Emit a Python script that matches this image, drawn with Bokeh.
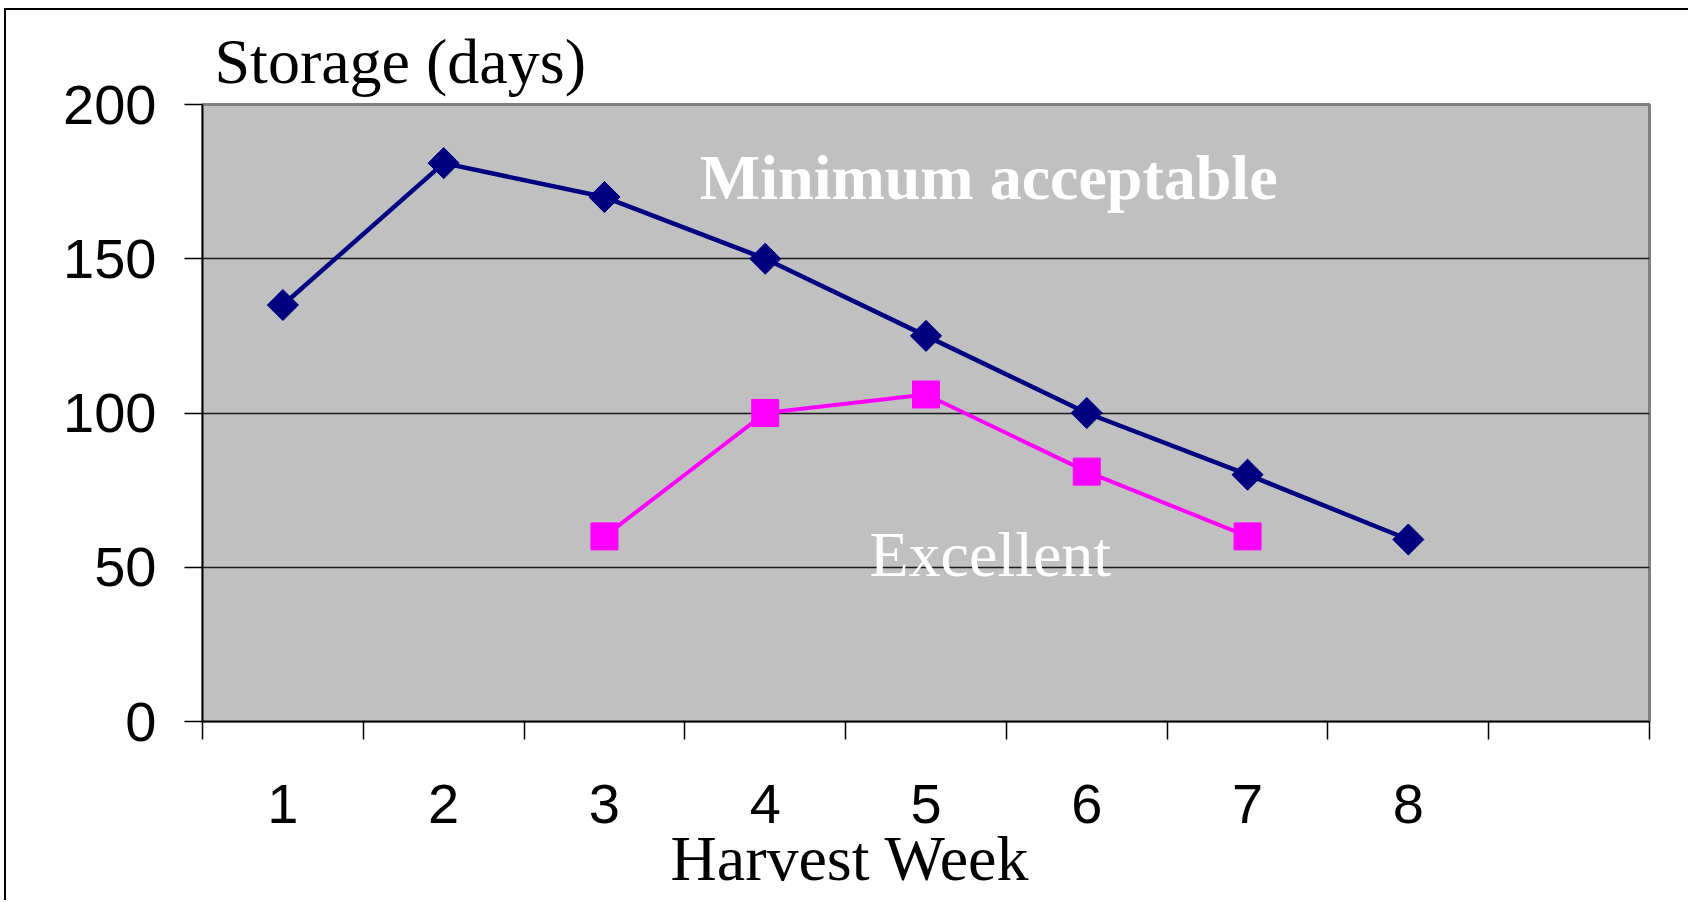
import math
from bokeh.plotting import figure
from bokeh.models import FixedTicker, Range1d, Label, ColumnDataSource, Title
from bokeh.embed import file_html
from bokeh.resources import INLINE

# ---- data ----
weeks = [1, 2, 3, 4, 5, 6, 7, 8, 9]
week_labels = ["1", "2", "3", "4", "5", "6", "7", "8", ""]
min_weeks = [1, 2, 3, 4, 5, 6, 7, 8]
minimum_acceptable = [135, 181, 170, 150, 125, 100, 80, 59]
exc_weeks = [3, 4, 5, 6, 7]
excellent = [60, 100, 106, 81, 60]
y_ticks = [0, 50, 100, 150, 200]
grid_values = [50, 100, 150]

NAVY = "#000080"
MAGENTA = "#FF00FF"
SERIF = "Liberation Serif"
SANS = "Liberation Sans"

p = figure(width=1684, height=892, output_backend="svg", toolbar_location=None,
           x_range=Range1d(0.5, 9.5), y_range=Range1d(0, 200),
           min_border_left=196, min_border_right=41, min_border_top=94, min_border_bottom=181)

# outer chart border (left and top edges visible in the reference)
p.styles = {"margin-left": "4px", "margin-top": "8px",
            "border-left": "2px solid black", "border-top": "2px solid black"}

p.background_fill_color = "#C0C0C0"
p.border_fill_color = "white"
p.outline_line_color = "#808080"
p.outline_line_width = 3

# y-axis title at the top left
p.add_layout(Title(text="Storage (days)", align="left", offset=12, standoff=16,
                   text_font=SERIF, text_font_size="64px", text_font_style="normal",
                   text_color="black"), "above")

# x-axis title
p.add_layout(Title(text="Harvest Week", align="left", offset=468, standoff=-6,
                   vertical_align="top",
                   text_font=SERIF, text_font_size="64px", text_font_style="normal",
                   text_color="black"), "below")

# grid
p.xgrid.visible = False
p.ygrid.ticker = FixedTicker(ticks=grid_values)
p.ygrid.grid_line_color = "#1a1a1a"
p.ygrid.grid_line_width = 1.5

# y axis
p.yaxis.ticker = FixedTicker(ticks=y_ticks)
p.yaxis.axis_line_color = "black"
p.yaxis.axis_line_width = 1.5
p.yaxis.major_tick_out = 18
p.yaxis.major_tick_in = 0
p.yaxis.major_tick_line_color = "black"
p.yaxis.major_tick_line_width = 1.5
p.yaxis.minor_tick_line_color = None
p.yaxis.major_label_text_font = SANS
p.yaxis.major_label_text_font_size = "56px"
p.yaxis.major_label_text_color = "black"
p.yaxis.major_label_standoff = 28

# x axis (category labels centred, tick marks between categories)
p.xaxis.ticker = FixedTicker(ticks=weeks[:8], minor_ticks=[w - 0.5 for w in weeks] + [weeks[-1] + 0.5])
p.xaxis.major_label_overrides = {w: l for w, l in zip(weeks, week_labels)}
p.xaxis.axis_line_color = "black"
p.xaxis.axis_line_width = 1.5
p.xaxis.major_tick_out = 0
p.xaxis.major_tick_in = 0
p.xaxis.major_tick_line_color = None
p.xaxis.minor_tick_out = 18
p.xaxis.minor_tick_in = 0
p.xaxis.minor_tick_line_color = "black"
p.xaxis.minor_tick_line_width = 1.5
p.xaxis.major_label_text_font = SANS
p.xaxis.major_label_text_font_size = "56px"
p.xaxis.major_label_text_color = "black"
p.xaxis.major_label_standoff = 45

# series
src_min = ColumnDataSource(dict(x=min_weeks, y=minimum_acceptable))
src_exc = ColumnDataSource(dict(x=exc_weeks, y=excellent))

p.line("x", "y", source=src_min, line_color=NAVY, line_width=4.5)
p.scatter("x", "y", source=src_min, marker="square", angle=math.pi / 4, size=22,
          fill_color=NAVY, line_color=NAVY)
p.line("x", "y", source=src_exc, line_color=MAGENTA, line_width=4)
p.scatter("x", "y", source=src_exc, marker="square", size=27,
          fill_color=MAGENTA, line_color=MAGENTA)

# in-plot labels
p.add_layout(Label(x=5.39, y=176.4, text="Minimum acceptable", text_align="center",
                   text_baseline="middle", text_font=SERIF, text_font_style="bold",
                   text_font_size="64px", text_color="white"))
p.add_layout(Label(x=5.4, y=54.1, text="Excellent", text_align="center",
                   text_baseline="middle", text_font=SERIF,
                   text_font_size="64px", text_color="white"))

open("out.html", "w").write(file_html(p, INLINE))
